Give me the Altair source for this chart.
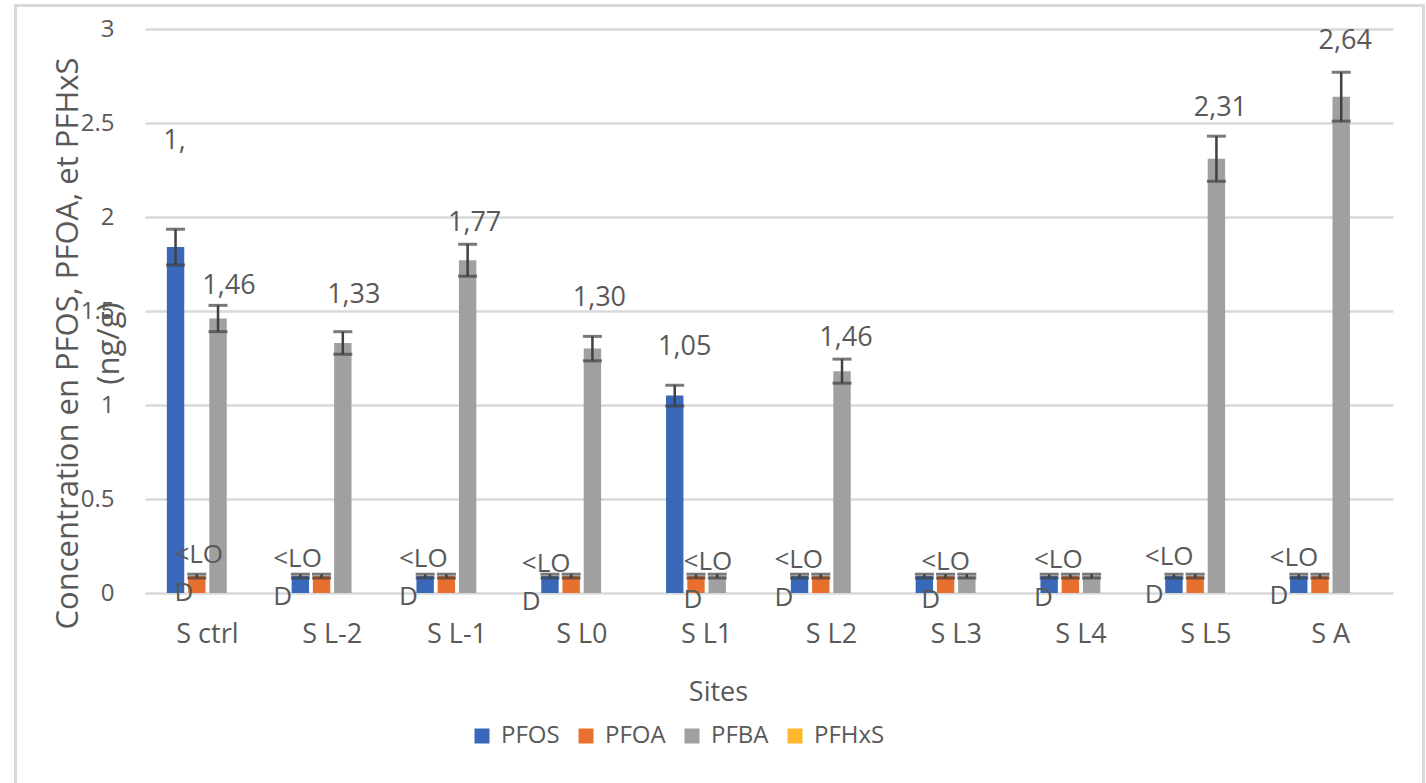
import altair as alt
import pandas as pd

# ---- data -----------------------------------------------------------------
SITES = ["S ctrl", "S L-2", "S L-1", "S L0", "S L1", "S L2", "S L3", "S L4", "S L5", "S A"]
SERIES = ["PFOS", "PFOA", "PFBA", "PFHxS"]
COLORS = ["#3a68b8", "#e8702f", "#a0a0a0", "#fcb72a"]

PFOS = [1.84, 0.09, 0.09, 0.09, 1.05, 0.09, 0.09, 0.09, 0.09, 0.09]
PFOS_ERR = [0.095, 0.01, 0.01, 0.01, 0.055, 0.01, 0.01, 0.01, 0.01, 0.01]
PFOA = [0.09, 0.09, 0.09, 0.09, 0.09, 0.09, 0.09, 0.09, 0.09, 0.09]
PFOA_ERR = [0.01, 0.01, 0.01, 0.01, 0.01, 0.01, 0.01, 0.01, 0.01, 0.01]
PFBA = [1.46, 1.33, 1.77, 1.30, 0.09, 1.18, 0.09, 0.09, 2.31, 2.64]
PFBA_ERR = [0.07, 0.06, 0.085, 0.065, 0.01, 0.064, 0.01, 0.01, 0.12, 0.13]
PFHXS = [None, None, None, None, None, None, None, None, None, None]
PFHXS_ERR = [None, None, None, None, None, None, None, None, None, None]

# data labels written above some bars
VALUE_LABEL_SITES = ["S ctrl", "S ctrl", "S L-2", "S L-1", "S L0", "S L1", "S L2", "S L5", "S A"]
VALUE_LABEL_SERIES = ["PFOS", "PFBA", "PFBA", "PFBA", "PFBA", "PFOS", "PFBA", "PFBA", "PFBA"]
VALUE_LABEL_TEXT = ["1,", "1,46", "1,33", "1,77", "1,30", "1,05", "1,46", "2,31", "2,64"]
LOD_TEXT = "<LO\nD"

# ---- layout nudges for the hand-placed labels (pixels) ---------------------
VALUE_LABEL_NUDGE = [(-1, -80), (11, -11), (11, -29), (7, -13), (7, -30),
                     (10, -30), (4, -13), (4, -20), (4, -23)]
LOD_NUDGE = [(-33, -30), (-59, -26), (-58, -26), (-60, -21), (-23, -23),
             (-57, -25), (-35, -23), (-47, -25), (-61, -28), (-61, -27)]

FONT = "Open Sans"
TEXT_COLOR = "#595959"
GRID_COLOR = "#d9d9d9"
ERR_COLOR = "#404040"

# ---- long table -------------------------------------------------------------
rows = []
for name, vals, errs in [("PFOS", PFOS, PFOS_ERR), ("PFOA", PFOA, PFOA_ERR),
                         ("PFBA", PFBA, PFBA_ERR), ("PFHxS", PFHXS, PFHXS_ERR)]:
    for site, v, e in zip(SITES, vals, errs):
        rows.append({
            "site": site, "series": name, "value": v, "err": e,
            "lo": None if v is None else v - e,
            "hi": None if v is None else v + e,
        })
df = pd.DataFrame(rows)
df_bars = df.dropna(subset=["value"])

x_scale = alt.Scale(domain=SITES, paddingInner=0.35, paddingOuter=0.175)
off_scale = alt.Scale(domain=SERIES, paddingInner=0.18, paddingOuter=0)
y_scale = alt.Scale(domain=[0, 3], nice=False)

x_axis = alt.Axis(
    title="Sites", labelAngle=0, labelFontSize=27, labelFont=FONT, labelColor=TEXT_COLOR,
    labelPadding=28, domain=False, ticks=False, grid=False,
    titleFont=FONT, titleFontSize=27, titleFontWeight="normal", titleColor=TEXT_COLOR,
    titleX=573, titleY=107, titleBaseline="alphabetic", titleAlign="center")
y_axis = alt.Axis(
    title=["Concentration en PFOS, PFOA, et PFHxS", "(ng/g)"],
    values=[0, 0.5, 1, 1.5, 2, 2.5, 3], format="~g",
    labelFontSize=24, labelFont=FONT, labelColor=TEXT_COLOR, labelPadding=31,
    domain=False, ticks=False, grid=True, gridColor=GRID_COLOR, gridWidth=2.5,
    titleFont=FONT, titleFontSize=31, titleFontWeight="normal", titleColor=TEXT_COLOR,
    titleAngle=270, titleX=-68, titleY=314, titleAlign="center",
    titleBaseline="alphabetic", titleLineHeight=41)

x_enc = alt.X("site:N", scale=x_scale, sort=SITES, axis=x_axis)
off_enc = alt.XOffset("series:N", scale=off_scale, sort=SERIES)


def y_of(field):
    return alt.Y(f"{field}:Q", scale=y_scale, axis=y_axis)


bars = alt.Chart(df_bars).mark_bar().encode(
    x=x_enc, xOffset=off_enc, y=y_of("value"),
    color=alt.Color("series:N", scale=alt.Scale(domain=SERIES, range=COLORS),
                    legend=alt.Legend(
                        title=None, orient="none", direction="horizontal",
                        legendX=325, legendY=695, padding=0,
                        symbolType="square", symbolSize=225, symbolStrokeWidth=0,
                        labelFont=FONT, labelFontSize=24, labelColor=TEXT_COLOR,
                        labelOffset=7, columnPadding=14)),
)

# error bars: vertical stem plus two caps
err_rule = alt.Chart(df_bars).mark_rule(color=ERR_COLOR, strokeWidth=2.5).encode(
    x=x_enc, xOffset=off_enc, y=y_of("lo"), y2="hi:Q",
)
cap_lo = alt.Chart(df_bars).mark_tick(color=ERR_COLOR, size=19, thickness=3,
                                       orient="horizontal").encode(
    x=x_enc, xOffset=off_enc, y=y_of("lo"))
cap_hi = alt.Chart(df_bars).mark_tick(color=ERR_COLOR, size=19, thickness=3,
                                       orient="horizontal").encode(
    x=x_enc, xOffset=off_enc, y=y_of("hi"))

layers = [bars, err_rule, cap_lo, cap_hi]

# value labels above the error bars
lookup = df_bars.set_index(["site", "series"])
for site, series, text, (dx, dy) in zip(VALUE_LABEL_SITES, VALUE_LABEL_SERIES,
                                        VALUE_LABEL_TEXT, VALUE_LABEL_NUDGE):
    top = lookup.loc[(site, series), "hi"]
    d = pd.DataFrame([{"site": site, "series": series, "top": top, "label": text}])
    layers.append(
        alt.Chart(d).mark_text(font=FONT, fontSize=27, color=TEXT_COLOR,
                               align="center", baseline="alphabetic", dx=dx, dy=dy)
        .encode(x=x_enc, xOffset=off_enc, y=y_of("top"), text="label:N")
    )

# "<LOD" labels near the baseline of each site
for site, (dx, dy) in zip(SITES, LOD_NUDGE):
    d = pd.DataFrame([{"site": site, "base": 0.0, "label": LOD_TEXT}])
    layers.append(
        alt.Chart(d).mark_text(font=FONT, fontSize=26, color=TEXT_COLOR,
                               align="left", baseline="alphabetic", lineBreak="\n",
                               lineHeight=38, dx=dx, dy=dy)
        .encode(x=x_enc, y=y_of("base"), text="label:N")
    )

# light frame around the whole chart
frame = alt.Chart(pd.DataFrame([{"k": 0}])).mark_rect(
    fillOpacity=0, stroke=GRID_COLOR, strokeWidth=3).encode(
    x=alt.value(-129.5), x2=alt.value(1278.5), y=alt.value(-23.5), y2=alt.value(775))
layers.append(frame)

chart = alt.layer(*layers).properties(
    width=1248, height=564,
    padding={"left": 145, "top": 29, "right": 33, "bottom": 190},
    autosize=alt.AutoSizeParams(type="none"),
    background="white",
).configure_view(stroke=None)

chart.save("out.html", embed_options={"renderer": "svg", "actions": False})
